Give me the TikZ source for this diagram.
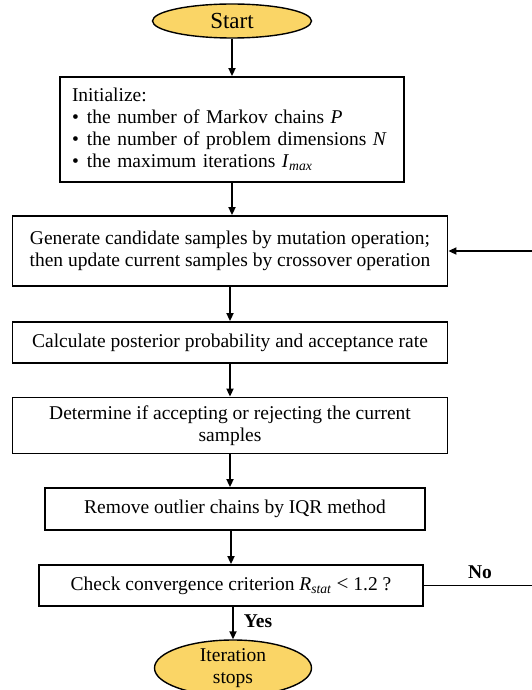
\documentclass[tikz,border=0pt]{standalone}
\usepackage{fontspec}
\setmainfont{Liberation Serif}
\usetikzlibrary{shapes.geometric,arrows.meta}
\definecolor{termfill}{RGB}{250,213,102}
\begin{document}
\begin{tikzpicture}[x=1pt,y=-1pt,
  every node/.style={font=\fontsize{19.5}{22}\selectfont},
  term/.style={ellipse,draw,line width=1.4pt,fill=termfill,inner sep=0pt,align=center},
  procbox/.style={rectangle,draw,line width=1.8pt,inner sep=0pt,align=center},
  flow/.style={line width=1.7pt,-{Triangle[length=8pt,width=7pt]}},
  lbl/.style={font=\fontsize{19.5}{22}\selectfont\bfseries}
]
\useasboundingbox (0,0) rectangle (531,690);
\node[term,minimum width=159pt,minimum height=34pt,font=\fontsize{23}{26}\selectfont] (start) at (232,21) {Start};
\node[procbox,inner xsep=12pt,inner ysep=0pt,text width=320pt,align=left,minimum height=105pt] (init) at (232,129.5)
 {Initialize:\\
  \makebox[15pt][l]{\textbullet}the number of Markov chains \textit{P}\\
  \makebox[15pt][l]{\textbullet}the number of problem dimensions \textit{N}\\
  \makebox[15pt][l]{\textbullet}the maximum iterations \textit{I}\textsubscript{\textit{max}}};
\node[procbox,minimum width=435pt,minimum height=70pt] (gen) at (230,251)
 {Generate candidate samples by mutation operation;\\then update current samples by crossover operation};
\node[procbox,minimum width=435pt,minimum height=41pt] (calc) at (230,342.5)
 {Calculate posterior probability and acceptance rate};
\node[procbox,minimum width=435pt,minimum height=56pt] (det) at (230,425.5)
 {Determine if accepting or rejecting the current\\samples};
\node[procbox,minimum width=380pt,minimum height=42pt] (rem) at (235,509)
 {Remove outlier chains by IQR method};
\node[procbox,minimum width=384pt,minimum height=41pt] (chk) at (231,585.5)
 {Check convergence criterion \textit{R}\textsubscript{\textit{stat}} {\fontsize{21}{22}\selectfont<} 1.2 ?};
\node[term,minimum width=157pt,minimum height=56pt] (stop) at (233,668)
 {Iteration\\stops};
\coordinate (loopc) at (545,585.5);
\draw[flow] (start.south) -- (start.south |- init.north);
\draw[flow] (init.south) -- (init.south |- gen.north);
\draw[flow] (gen.south) -- (calc.north);
\draw[flow] (calc.south) -- (det.north);
\draw[flow] (det.south) -- (det.south |- rem.north);
\draw[flow] (rem.south -| chk.north) -- (chk.north);
\draw[flow] (chk.south -| stop.north) -- (stop.north);
\draw[flow] (chk.east) -- (loopc) |- (gen.east);
\node[lbl] (nolbl) at (480,572) {No};
\node[lbl] (yeslbl) at (258,621) {Yes};
\end{tikzpicture}
\end{document}
